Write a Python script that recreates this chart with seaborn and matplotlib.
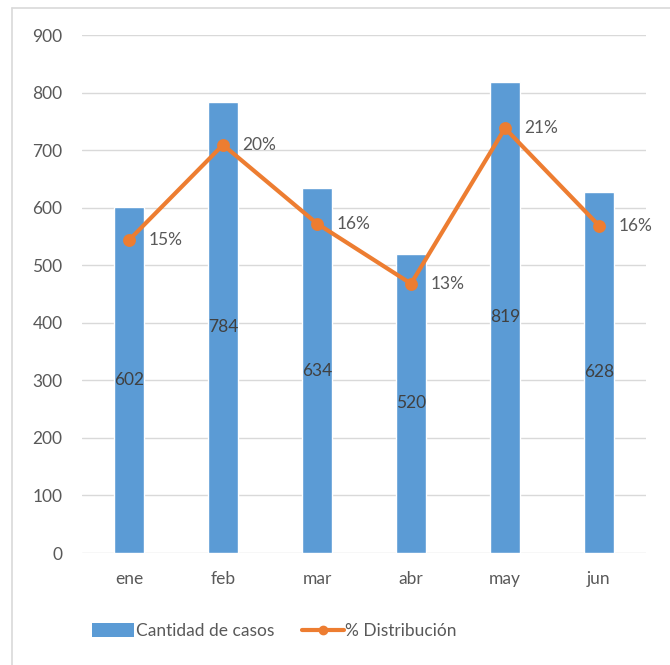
import matplotlib
matplotlib.use("Agg")
import matplotlib.pyplot as plt
import seaborn as sns
import pandas as pd
from matplotlib.lines import Line2D
from matplotlib.patches import Patch

meses = ["ene", "feb", "mar", "abr", "may", "jun"]
casos = [602, 784, 634, 520, 819, 628]
distribucion = [0.151, 0.197, 0.159, 0.130, 0.205, 0.158]
pct_labels = ["15%", "20%", "16%", "13%", "21%", "16%"]
yticks = [0, 100, 200, 300, 400, 500, 600, 700, 800, 900]

BLUE = "#5B9BD5"
ORANGE = "#ED7D31"
TXT = "#595959"
GRID = "#D9D9D9"
FS = 12.5

sns.set_theme(style="white")
plt.rcParams["font.family"] = ["Lato", "DejaVu Sans"]

df = pd.DataFrame({"mes": meses, "casos": casos, "pct": distribucion})

fig = plt.figure(figsize=(6.7, 6.65), dpi=100)
ax = fig.add_axes([82/670, 1-553/665, (646-82)/670, (553-35)/665])

sns.barplot(data=df, x="mes", y="casos", color=BLUE, width=0.32,
            saturation=1, ax=ax, zorder=2)
ax.set_ylim(0, 900)
ax.set_yticks(yticks)
ax.set_xlim(-0.5, 5.5)
ax.grid(axis="y", color=GRID, linewidth=1, zorder=0)
ax.set_axisbelow(True)
for s in ax.spines.values():
    s.set_visible(False)
ax.set_xlabel("")
ax.set_ylabel("")
ax.tick_params(axis="both", length=0, labelsize=FS, labelcolor=TXT)
ax.tick_params(axis="x", pad=13)
ax.tick_params(axis="y", pad=14)
for c in ax.containers:
    ax.bar_label(c, labels=[str(v) for v in casos], label_type="center",
                 color="#404040", fontsize=FS)

ax2 = ax.twinx()
sns.pointplot(data=df, x="mes", y="pct", color=ORANGE, markers="o",
              linestyles="-", ax=ax2, markersize=7, linewidth=3)
ax2.set_ylim(0, 0.25)
ax2.set_xlim(-0.5, 5.5)
ax2.axis("off")
for i, (p, lab) in enumerate(zip(distribucion, pct_labels)):
    ax2.annotate(lab, (i, p), xytext=(14, 0), textcoords="offset points",
                 va="center", ha="left", color=TXT, fontsize=FS)

handles = [Patch(facecolor=BLUE, edgecolor="none"),
           Line2D([0], [0], color=ORANGE, linewidth=3, marker="o", markersize=6)]
fig.legend(handles, ["Cantidad de casos", "% Distribución"], loc="center",
           bbox_to_anchor=(0.41, 1-631/665), ncol=2, frameon=False,
           fontsize=FS, labelcolor=TXT, handlelength=2.4, handleheight=0.9,
           handletextpad=0.1, columnspacing=1.6)

fig.add_artist(Line2D([12/670, 12/670], [0, 1-8/665], color=GRID, linewidth=1.2))
fig.add_artist(Line2D([12/670, 1], [1-8/665, 1-8/665], color=GRID, linewidth=1.2))

fig.savefig("out.png", dpi=100, facecolor="white")
